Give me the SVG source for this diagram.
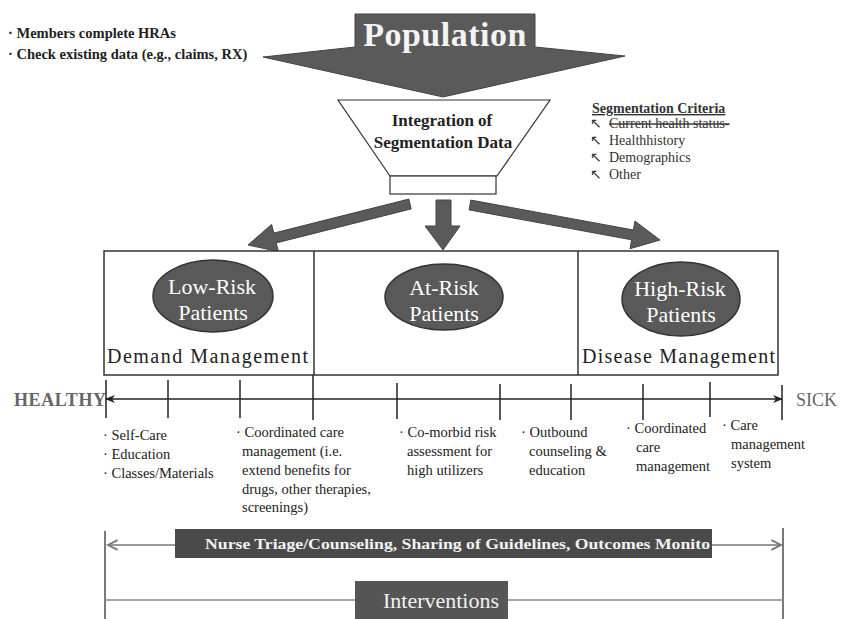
<svg xmlns="http://www.w3.org/2000/svg" width="843" height="619" viewBox="0 0 843 619">
<defs>
<style>
.serif{font-family:"Liberation Serif","Times New Roman",serif}
.note{font-family:"Liberation Serif","Times New Roman",serif;font-size:14.5px;font-weight:bold;fill:#222}
.bul{font-family:"Liberation Serif","Times New Roman",serif;font-size:14.5px;fill:#222}
.ell{fill:#595959;stroke:#333;stroke-width:1.5}
.elltxt{font-family:"Liberation Serif","Times New Roman",serif;font-size:22px;fill:#fff;text-anchor:middle}
.mgmt{font-family:"Liberation Serif","Times New Roman",serif;font-size:20px;fill:#222}
.tick{stroke:#222;stroke-width:1.5}
.crit{font-family:"Liberation Serif","Times New Roman",serif;font-size:14px;fill:#333}
.big{fill:#5a5a5a;stroke:#444;stroke-width:1}
</style>
<marker id="blk" viewBox="0 0 10 10" refX="9" refY="5" markerWidth="12" markerHeight="10" markerUnits="userSpaceOnUse" orient="auto-start-reverse">
<path d="M0,1 L10,5 L0,9 L3,5 Z" fill="#222"/>
</marker>
<marker id="chev" viewBox="0 0 10 10" refX="9" refY="5" markerWidth="14" markerHeight="12" markerUnits="userSpaceOnUse" orient="auto-start-reverse">
<path d="M1,1 L9,5 L1,9" fill="none" stroke="#777" stroke-width="1.6"/>
</marker>
</defs>
<rect width="843" height="619" fill="#fff"/>

<g id="inputs">
<text class="note" x="8" y="38">· Members complete HRAs</text>
<text class="note" x="8" y="59">· Check existing data (e.g., claims, RX)</text>
</g>

<g id="population">
<polygon class="big" points="355,14 535,14 535,47 625,56 443,97 263,57 355,47"/>
<text class="serif" x="445" y="46" font-size="34" font-weight="bold" letter-spacing="0.5" fill="#f4f4f4" text-anchor="middle">Population</text>
</g>

<g id="funnel">
<polygon points="338,100 550,100 497,176 390,176" fill="#fff" stroke="#333" stroke-width="1.2"/>
<rect x="390" y="176" width="106" height="18" fill="#fff" stroke="#333" stroke-width="1.2"/>
<text class="serif" x="442" y="126" font-size="17" font-weight="bold" fill="#222" text-anchor="middle">Integration of</text>
<text class="serif" x="443" y="148" font-size="17" font-weight="bold" fill="#222" text-anchor="middle">Segmentation Data</text>
</g>

<g id="criteria">
<text class="crit" x="592" y="113" font-weight="bold" text-decoration="underline">Segmentation Criteria</text>
<text class="crit" x="590" y="128">↖</text><text class="crit" x="609" y="128" text-decoration="line-through">Current health status-</text>
<text class="crit" x="590" y="145">↖</text><text class="crit" x="609" y="145">Healthhistory</text>
<text class="crit" x="590" y="162">↖</text><text class="crit" x="609" y="162">Demographics</text>
<text class="crit" x="590" y="179">↖</text><text class="crit" x="609" y="179">Other</text>
</g>

<g id="connectors">
<polygon class="big" points="408.8,199.1 273.8,233.1 271.6,224.4 248,245 278.4,251.6 276.2,242.9 411.2,208.9"/>
<polygon class="big" points="436,200 451,200 451,226 460,226 443,250 425,226 436,226"/>
<polygon class="big" points="470.9,200.1 633.4,230 635,221.1 660,240 630,248.7 631.6,239.8 469.1,209.9"/>
<line x1="106" y1="399" x2="782" y2="399" stroke="#222" stroke-width="1.5" marker-start="url(#blk)" marker-end="url(#blk)"/>
<line x1="108" y1="545" x2="781" y2="545" stroke="#777" stroke-width="1.3" marker-start="url(#chev)" marker-end="url(#chev)"/>
</g>

<g id="segments">
<rect x="104" y="251" width="674" height="124" fill="#fff" stroke="#333" stroke-width="1.5"/>
<line x1="314" y1="251" x2="314" y2="375" stroke="#333" stroke-width="1.5"/>
<line x1="578" y1="251" x2="578" y2="375" stroke="#333" stroke-width="1.5"/>
</g>

<g id="low-risk">
<ellipse class="ell" cx="213" cy="296" rx="60" ry="36"/>
<text class="elltxt" x="212" y="294">Low-Risk</text>
<text class="elltxt" x="213" y="320">Patients</text>
<text class="mgmt" x="107" y="363" textLength="201" lengthAdjust="spacing">Demand Management</text>
</g>

<g id="at-risk">
<ellipse class="ell" cx="444" cy="297" rx="59" ry="33"/>
<text class="elltxt" x="444" y="295">At-Risk</text>
<text class="elltxt" x="444" y="321">Patients</text>
</g>

<g id="high-risk">
<ellipse class="ell" cx="681" cy="299" rx="59" ry="37"/>
<text class="elltxt" x="680" y="296">High-Risk</text>
<text class="elltxt" x="681" y="322">Patients</text>
<text class="mgmt" x="582" y="363" textLength="193" lengthAdjust="spacing">Disease Management</text>
</g>

<g id="timeline">
<text class="serif" x="14" y="406" font-size="18" font-weight="bold" fill="#666" textLength="92" lengthAdjust="spacing">HEALTHY</text>
<text class="serif" x="796" y="406" font-size="18" fill="#666">SICK</text>
<line class="tick" x1="106" y1="380" x2="106" y2="418"/>
<line class="tick" x1="168" y1="380" x2="168" y2="418"/>
<line class="tick" x1="240" y1="380" x2="240" y2="418"/>
<line class="tick" x1="313" y1="375" x2="313" y2="420"/>
<line class="tick" x1="397" y1="383" x2="397" y2="419"/>
<line class="tick" x1="500" y1="384" x2="500" y2="420"/>
<line class="tick" x1="571" y1="384" x2="571" y2="420"/>
<line class="tick" x1="643" y1="384" x2="643" y2="420"/>
<line class="tick" x1="710" y1="382" x2="710" y2="417"/>
<line class="tick" x1="782" y1="385" x2="782" y2="420"/>
</g>

<g id="demand-items">
<text class="bul" x="103" y="440">·  Self-Care</text>
<text class="bul" x="103" y="459">·  Education</text>
<text class="bul" x="103" y="478">·  Classes/Materials</text>
</g>
<g id="coord-items">
<text class="bul" x="236" y="437">· Coordinated care</text>
<text class="bul" x="242" y="456">management (i.e.</text>
<text class="bul" x="242" y="475">extend benefits for</text>
<text class="bul" x="242" y="494">drugs, other therapies,</text>
<text class="bul" x="242" y="512">screenings)</text>
</g>
<g id="comorbid-items">
<text class="bul" x="399" y="437">·  Co-morbid risk</text>
<text class="bul" x="407" y="456">assessment for</text>
<text class="bul" x="407" y="475">high utilizers</text>
</g>
<g id="outbound-items">
<text class="bul" x="521" y="437">· Outbound</text>
<text class="bul" x="529" y="456">counseling &amp;</text>
<text class="bul" x="529" y="475">education</text>
</g>
<g id="coord2-items">
<text class="bul" x="626" y="433">· Coordinated</text>
<text class="bul" x="636" y="452">care</text>
<text class="bul" x="636" y="471">management</text>
</g>
<g id="care-items">
<text class="bul" x="722" y="430">· Care</text>
<text class="bul" x="731" y="449">management</text>
<text class="bul" x="731" y="468">system</text>
</g>

<g id="interventions">
<line x1="105" y1="531" x2="105" y2="619" stroke="#333" stroke-width="1.3"/>
<line x1="783" y1="528" x2="783" y2="619" stroke="#333" stroke-width="1.3"/>
<line x1="105" y1="600" x2="783" y2="600" stroke="#888" stroke-width="1.3"/>
<rect x="175" y="529" width="537" height="29" fill="#4a4a4a"/>
<line x1="712" y1="545" x2="746" y2="545" stroke="#999" stroke-width="1.3" stroke-dasharray="2,2"/>
<text class="serif" x="205" y="549" font-size="15" font-weight="bold" fill="#f2f2f2" textLength="505" lengthAdjust="spacingAndGlyphs">Nurse Triage/Counseling, Sharing of Guidelines, Outcomes Monito</text>
<rect x="355" y="581" width="153" height="38" fill="#555"/>
<text class="serif" x="441" y="608" font-size="22" fill="#f2f2f2" text-anchor="middle">Interventions</text>
</g>
</svg>
